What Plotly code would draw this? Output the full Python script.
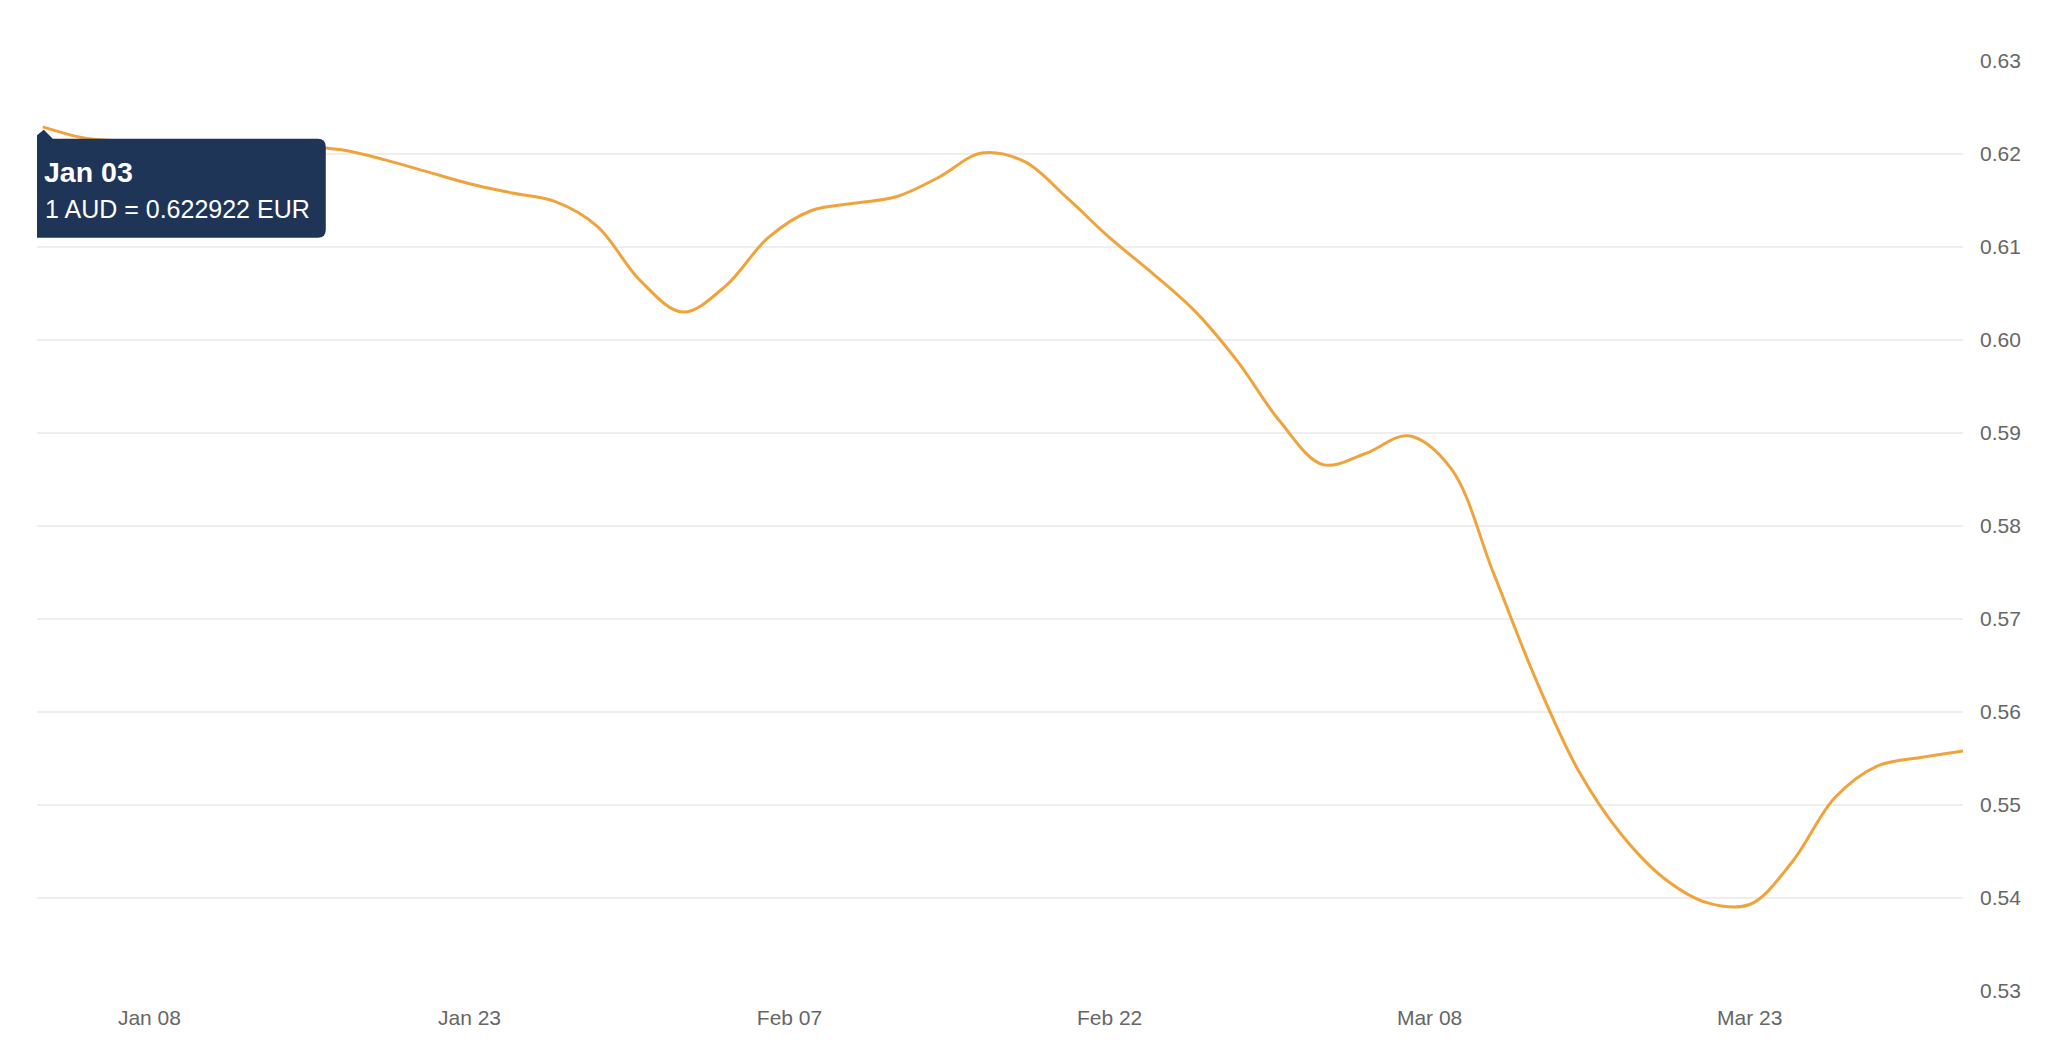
import pandas as pd
import plotly.graph_objects as go

# AUD -> EUR rate, Jan-Apr 2020, one reading every two days
dates = ["2020-01-03", "2020-01-05", "2020-01-07", "2020-01-09", "2020-01-11",
         "2020-01-13", "2020-01-15", "2020-01-17", "2020-01-19", "2020-01-21",
         "2020-01-23", "2020-01-25", "2020-01-27", "2020-01-29", "2020-01-31",
         "2020-02-02", "2020-02-04", "2020-02-06", "2020-02-08", "2020-02-10",
         "2020-02-12", "2020-02-14", "2020-02-16", "2020-02-18", "2020-02-20",
         "2020-02-22", "2020-02-24", "2020-02-26", "2020-02-28", "2020-03-01",
         "2020-03-03", "2020-03-05", "2020-03-07", "2020-03-09", "2020-03-11",
         "2020-03-13", "2020-03-15", "2020-03-17", "2020-03-19", "2020-03-21",
         "2020-03-23", "2020-03-25", "2020-03-27", "2020-03-29", "2020-03-31",
         "2020-04-02"]
rates = [0.622922, 0.6217, 0.6214, 0.6213, 0.6212,
         0.6211, 0.6209, 0.62045, 0.6194, 0.6181,
         0.6168, 0.6158, 0.6149, 0.6122, 0.6064,
         0.6030, 0.6058, 0.6110, 0.6139, 0.6147,
         0.6154, 0.6175, 0.6201, 0.6192, 0.6153,
         0.6110, 0.6072, 0.6031, 0.5977, 0.5912,
         0.5866, 0.5878, 0.5897, 0.5862, 0.5749,
         0.5634, 0.5536, 0.5468, 0.5421, 0.5395,
         0.5393, 0.5439, 0.5508, 0.5542, 0.5551,
         0.5558]

x_ticks = ["2020-01-08", "2020-01-23", "2020-02-07", "2020-02-22", "2020-03-08", "2020-03-23"]
y_ticks = [0.53, 0.54, 0.55, 0.56, 0.57, 0.58, 0.59, 0.60, 0.61, 0.62, 0.63]

base, quote = "AUD", "EUR"

FONT = "Liberation Sans, Arial, Helvetica, sans-serif"
navy = "#1f3558"

x = pd.to_datetime(dates)

fig = go.Figure()
fig.add_trace(go.Scatter(x=x, y=rates, mode="lines",
                         line=dict(color="#f0a33a", width=3, shape="spline", smoothing=1),
                         hoverinfo="skip", showlegend=False))

# tooltip box anchored on the first point
fig.add_shape(type="path", xref="x", yref="y", xsizemode="pixel", ysizemode="pixel",
              xanchor=x[0], yanchor=rates[0],
              path="M -6.5,-12 L -6.5,-9 L 1,-3 L 10,-12 L 275,-12 Q 283,-12 283,-20 "
                   "L 283,-103 Q 283,-111 275,-111 L -6.5,-111 Z",
              fillcolor=navy, line=dict(width=0), layer="above")
fig.add_annotation(x=x[0], y=rates[0], xref="x", yref="y", showarrow=False,
                   xanchor="left", yanchor="top", xshift=0, yshift=-28, borderpad=0,
                   text="<b>" + x[0].strftime("%b %d") + "</b>",
                   font=dict(family=FONT, size=28.5, color="white"))
fig.add_annotation(x=x[0], y=rates[0], xref="x", yref="y", showarrow=False,
                   xanchor="left", yanchor="top", xshift=1, yshift=-67, borderpad=0,
                   text=f"1 {base} = {rates[0]:.6f} {quote}",
                   font=dict(family=FONT, size=25, color="white"))

fig.update_layout(
    width=2040, height=1040,
    margin=dict(l=29, r=85, t=53, b=57),
    paper_bgcolor="white", plot_bgcolor="white",
    font=dict(family=FONT, size=21, color="#666666"),
    showlegend=False,
)
fig.update_xaxes(range=[pd.Timestamp("2020-01-02 17:30"), pd.Timestamp("2020-04-02")],
                 tickvals=pd.to_datetime(x_ticks), tickformat="%b %d",
                 showgrid=False, zeroline=False, showline=False,
                 ticks="", ticklabelstandoff=12)
fig.update_yaxes(range=[0.53, 0.63], tickvals=y_ticks, tickformat=".2f", side="right",
                 showgrid=True, gridcolor="#eeeeee", gridwidth=2,
                 zeroline=False, showline=False, ticks="", ticklabelstandoff=16)

fig.write_html("out.html")
